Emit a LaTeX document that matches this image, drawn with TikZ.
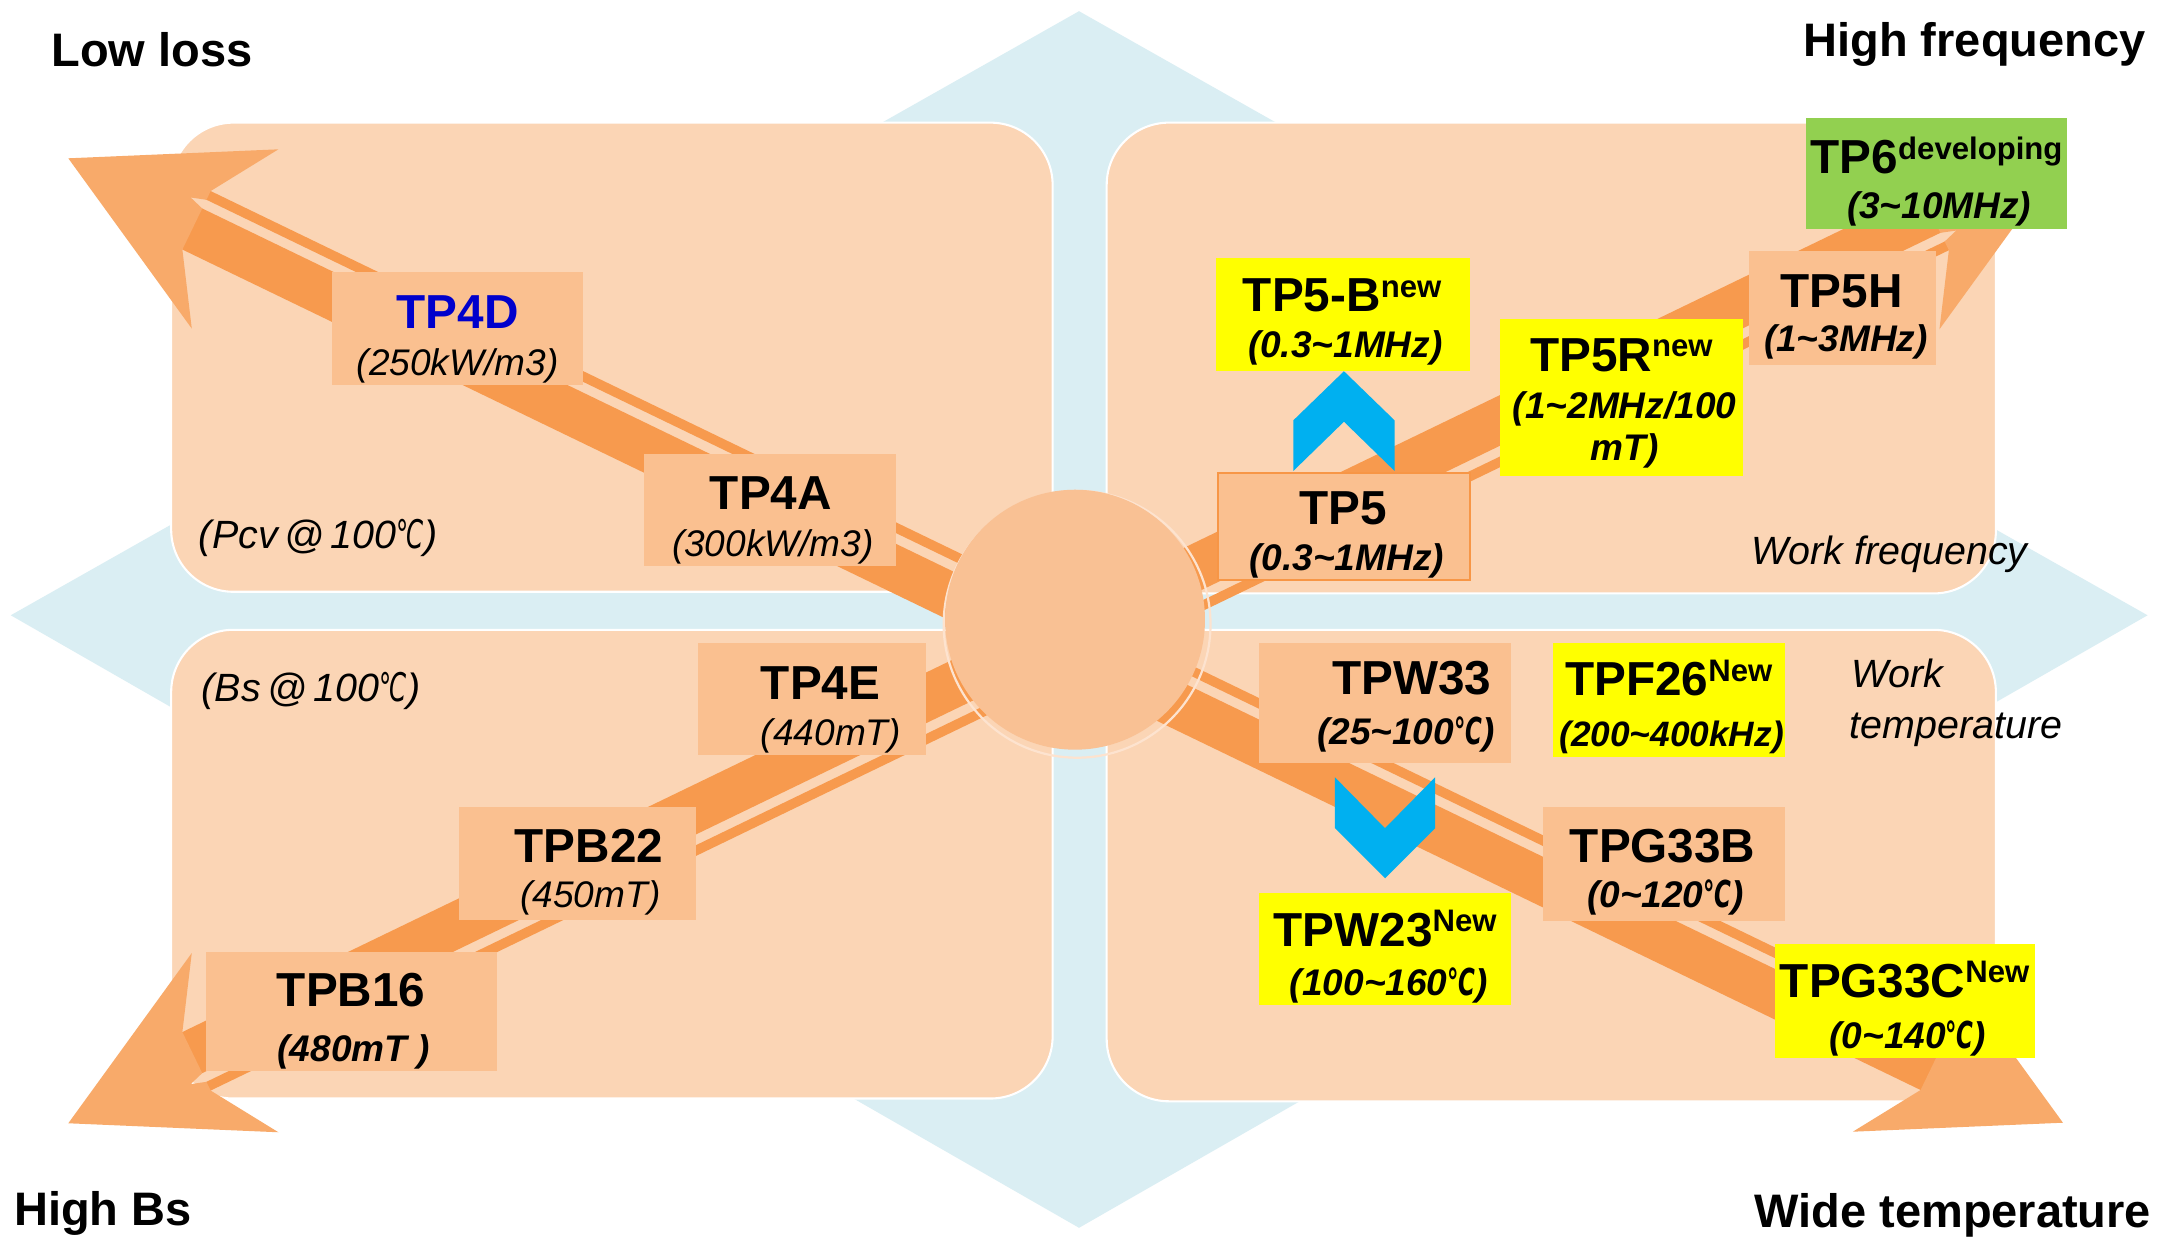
\documentclass[tikz,border=0pt]{standalone}
\usepackage{fontspec}
\usepackage{graphicx}
\setmainfont{Liberation Sans}
\newfontfamily\dvs{DejaVu Sans}
\definecolor{panelc}{HTML}{FBD5B5}
\definecolor{boxc}{HTML}{FAC090}
\definecolor{bluebg}{HTML}{DAEEF3}
\definecolor{arrc}{HTML}{F79A4E}
\definecolor{arrhead}{HTML}{F8AA6A}
\definecolor{circc}{HTML}{F9C194}
\definecolor{ringc}{HTML}{FDE3CF}
\definecolor{chevc}{HTML}{00B0F0}
\definecolor{grnc}{HTML}{92D050}
\definecolor{ylwc}{HTML}{FFFF00}
\definecolor{tpblue}{HTML}{0000CC}
\definecolor{tpborder}{HTML}{F79646}
\newcommand\tld{\textasciitilde}
\newcommand\dc{\scalebox{0.62}[1]{\dvs ℃}}
\newcommand\sups[1]{\raisebox{10.5pt}{\fontsize{22.5}{23}\selectfont #1}}
\newcommand\mybox[6]{\node[#2, minimum width={(#5-#3)*1pt}, minimum height={(#6-#4)*1pt}] (#1) at ({(#3+#5)/2},{(#4+#6)/2}) {};}
\newcommand\lbl[5]{\node[anchor=base, inner sep=0, #2] (#1) at (#3,#4) {#5};}
% tip x, tip y, canvas angle, length, side
\newcommand\orarrow[5]{%
\begin{scope}[shift={(#1,#2)}, rotate=#3, yscale=#5]
 \fill[arrc] (100,16.5) -- (#4,16.5) -- (#4,23.5) -- (100,23.5) -- cycle;
 \fill[arrc] (100,-23.5) -- (#4,-23.5) -- (#4,9.5) -- (100,9.5) -- cycle;
 \fill[arrhead] (0,0) -- (134,72) -- (103,23.5) -- (103,16.5) -- (92,13) -- (103,9.5) -- (103,-23.5) -- (134,-72) -- cycle;
\end{scope}}
\tikzset{
 panel/.style={rectangle, fill=panelc, draw=white, line width=1.5pt, rounded corners=45pt, inner sep=0},
 lbox/.style={rectangle, fill=boxc, inner sep=0},
 ybox/.style={rectangle, fill=ylwc, inner sep=0},
 gbox/.style={rectangle, fill=grnc, inner sep=0},
 mainf/.style={font={\fontsize{34.5}{36}\selectfont\bfseries}},
 subi/.style={font={\fontsize{26.8}{28}\selectfont\itshape}},
 subbi/.style={font={\fontsize{26.8}{28}\selectfont\bfseries\itshape}},
 notef/.style={font={\fontsize{28.5}{30}\selectfont\itshape}},
 titlef/.style={font={\fontsize{34}{36}\selectfont\bfseries}},
 chevron/.style={fill=chevc}
}
\begin{document}
\begin{tikzpicture}[x=1pt, y=-1pt]
\useasboundingbox (0,0) rectangle (1568,896);
\fill[white] (0,0) rectangle (1568,896);
% background four-way diamond
\fill[bluebg] (780.4,8.1) -- (7.8,445) -- (780.4,888) -- (1553.2,445) -- cycle;
% quadrant panels
\mybox{ptl}{panel}{123.8}{88.7}{761.3}{428}
\mybox{ptr}{panel}{800.4}{88.7}{1443.5}{429.2}
\mybox{pbl}{panel}{123.8}{455.5}{761.3}{794.5}
\mybox{pbr}{panel}{800.4}{455.5}{1443.5}{796.5}
% arrows
\orarrow{49.4}{114.5}{-25.8}{809}{-1}
\orarrow{1492}{812}{154.2}{802}{1}
\orarrow{49.4}{812.4}{25.8}{809}{1}
\orarrow{1492}{115}{205.8}{802}{-1}
% hub
\node[circle, draw=ringc, line width=1.6pt, minimum size=193pt, inner sep=0] (ring) at (779,451.5) {};
\node[circle, fill=circc, minimum size=188pt, inner sep=0] (hub) at (777.5,448.2) {};
% boxes
\mybox{b4d}{lbox}{240.4}{197}{421.4}{278.4}
\mybox{b4a}{lbox}{465.8}{328.3}{647.8}{409.1}
\mybox{b5b}{ybox}{879.4}{186.6}{1063.5}{268}
\mybox{b5}{lbox, draw=tpborder, line width=1.5pt}{881}{342}{1063}{419.5}
\mybox{b5r}{ybox}{1085.2}{231}{1260.8}{344.5}
\mybox{b5h}{lbox}{1264.9}{181.5}{1400.2}{264}
\mybox{b6}{gbox}{1306.2}{85.6}{1494.7}{165.6}
\mybox{b4e}{lbox}{505}{465.3}{669.5}{546}
\mybox{bb22}{lbox}{332}{583.6}{503.6}{665.4}
\mybox{bb16}{lbox}{149}{688.7}{359.2}{774.3}
\mybox{bw33}{lbox}{910.3}{464.9}{1092.6}{551.8}
\mybox{bf26}{ybox}{1123.2}{464.9}{1290.7}{547.4}
\mybox{bw23}{ybox}{910.3}{645.5}{1092.6}{727.2}
\mybox{bg33b}{lbox}{1115.8}{583.6}{1290.7}{665.9}
\mybox{bg33c}{ybox}{1283.7}{682.7}{1471.8}{765}
% chevrons
\fill[chevron] (935.4,304) -- (972,268.5) -- (1008.6,304) -- (1008.6,340.6) -- (972,305) -- (935.4,340.6) -- cycle;
\fill[chevron] (965.5,562.2) -- (1001.7,599) -- (1037.9,562.2) -- (1037.9,599) -- (1001.7,635.2) -- (965.5,599) -- cycle;
% titles
\lbl{lowloss}{titlef, anchor=base west}{37}{48}{Low loss}
\lbl{hifreq}{titlef, anchor=base east}{1552}{41}{High frequency}
\lbl{hibs}{titlef, anchor=base west}{10}{886}{High Bs}
\lbl{widet}{titlef, anchor=base east}{1556}{888}{Wide temperature}
% notes
\lbl{pcv}{notef, anchor=base west}{143.7}{396.5}{(Pcv\,@\,100\dc)}
\lbl{bsn}{notef, anchor=base west}{145.7}{507.6}{(Bs\,@\,100\dc)}
\lbl{wf}{notef, anchor=base west}{1266.6}{408}{Work frequency}
\lbl{wt1}{notef, anchor=base west}{1339}{497.3}{Work}
\lbl{wt2}{notef, anchor=base west}{1337.5}{534}{temperature}
% labels
\lbl{t4d}{mainf, text=tpblue}{331}{237.5}{TP4D}
\lbl{t4ds}{subi}{331}{271.5}{(250kW/m3)}
\lbl{t4a}{mainf}{557.5}{368.3}{TP4A}
\lbl{t4as}{subi}{559}{402.2}{(300kW/m3)}
\lbl{t5b}{mainf}{970.7}{225.6}{TP5-B\sups{new}}
\lbl{t5bs}{subbi}{973}{258.5}{(0.3\tld 1MHz)}
\lbl{t5}{mainf}{971.5}{379.6}{TP5}
\lbl{t5s}{subbi}{974}{412.5}{(0.3\tld 1MHz)}
\lbl{t5r}{mainf}{1172.6}{268.6}{TP5R\sups{new}}
\lbl{t5rs}{subbi}{1175}{303}{(1\tld 2MHz/100}
\lbl{t5rs2}{subbi}{1175}{333}{mT)}
\lbl{t5h}{mainf}{1332}{222.3}{TP5H}
\lbl{t5hs}{subbi}{1335}{254.5}{(1\tld 3MHz)}
\lbl{t6}{mainf}{1400.6}{125.8}{TP6\sups{developing}}
\lbl{t6s}{subbi}{1402.5}{158}{(3\tld 10MHz)}
\lbl{t4e}{mainf}{593.5}{505.8}{TP4E}
\lbl{t4es}{subi}{601}{539}{(440mT)}
\lbl{tb22}{mainf}{426}{624}{TPB22}
\lbl{tb22s}{subi}{427}{656.6}{(450mT)}
\lbl{tb16}{mainf}{254}{728}{TPB16}
\lbl{tb16s}{subbi}{255.8}{767.8}{(480mT )}
\lbl{tw33}{mainf}{1021}{502.3}{TPW33}
\lbl{tw33s}{subbi}{1016.7}{538.7}{(25\tld 100\dc)}
\lbl{tf26}{mainf}{1207}{503.2}{TPF26\sups{New}}
\lbl{tf26s}{subbi, font={\fontsize{25.5}{27}\selectfont\bfseries\itshape}}{1209}{540}{(200\tld 400kHz)}
\lbl{tw23}{mainf}{1001.7}{684.5}{TPW23\sups{New}}
\lbl{tw23s}{subbi}{1004.5}{720}{(100\tld 160\dc)}
\lbl{tg33b}{mainf}{1202.5}{624}{TPG33B}
\lbl{tg33bs}{subbi}{1204.5}{656.6}{(0\tld 120\dc)}
\lbl{tg33c}{mainf}{1377.5}{721.3}{TPG33C\sups{New}}
\lbl{tg33cs}{subbi}{1379.8}{758.5}{(0\tld 140\dc)}
\end{tikzpicture}
\end{document}
